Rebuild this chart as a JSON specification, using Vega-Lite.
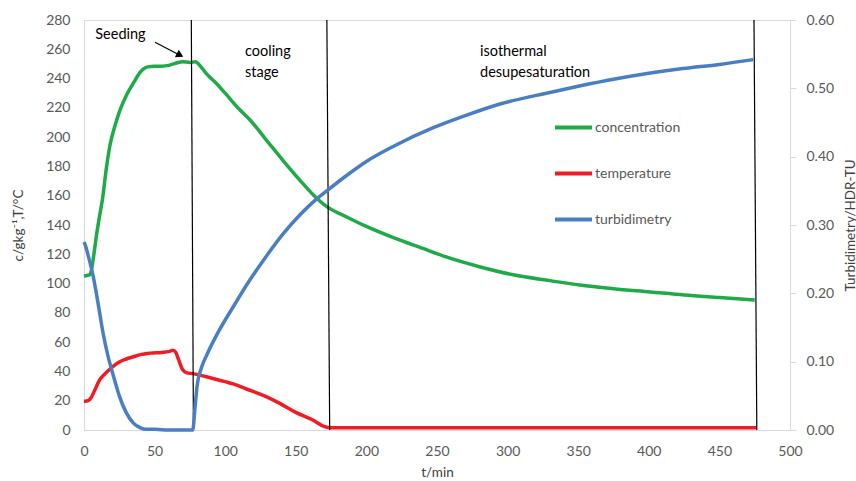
{
  "$schema": "https://vega.github.io/schema/vega-lite/v6.json",
  "autosize": {"type": "none"},
  "width": 706,
  "height": 410,
  "padding": {"left": 84, "top": 20, "right": 66, "bottom": 51},
  "background": "white",
  "config": {
    "font": "Lato",
    "view": {"stroke": "#D9D9D9", "strokeWidth": 1},
    "axis": {"labelColor": "#595959", "labelFontSize": 14, "titleColor": "#404040", "titleFontSize": 13.5, "titleFontWeight": "normal", "domainColor": "#D9D9D9", "tickColor": "#D9D9D9", "grid": false, "labelOverlap": false, "labelFlush": false},
    "legend": {"labelColor": "#595959", "labelFontSize": 14, "padding": 0}
  },
  "datasets": {
    "left": [
      {"t": 0, "v": 105, "s": "concentration"},
      {"t": 2, "v": 105.5, "s": "concentration"},
      {"t": 4, "v": 106, "s": "concentration"},
      {"t": 5, "v": 108, "s": "concentration"},
      {"t": 7, "v": 120, "s": "concentration"},
      {"t": 9, "v": 134, "s": "concentration"},
      {"t": 11, "v": 146, "s": "concentration"},
      {"t": 13, "v": 157, "s": "concentration"},
      {"t": 16, "v": 180, "s": "concentration"},
      {"t": 18.5, "v": 195, "s": "concentration"},
      {"t": 22, "v": 208, "s": "concentration"},
      {"t": 25.5, "v": 218.5, "s": "concentration"},
      {"t": 30, "v": 228.5, "s": "concentration"},
      {"t": 35, "v": 237, "s": "concentration"},
      {"t": 40, "v": 244.5, "s": "concentration"},
      {"t": 42, "v": 246.5, "s": "concentration"},
      {"t": 45, "v": 248, "s": "concentration"},
      {"t": 50, "v": 248.5, "s": "concentration"},
      {"t": 55, "v": 248.5, "s": "concentration"},
      {"t": 60, "v": 249, "s": "concentration"},
      {"t": 65, "v": 250.5, "s": "concentration"},
      {"t": 70, "v": 251.5, "s": "concentration"},
      {"t": 75, "v": 251, "s": "concentration"},
      {"t": 79, "v": 251.5, "s": "concentration"},
      {"t": 82, "v": 249, "s": "concentration"},
      {"t": 87, "v": 243, "s": "concentration"},
      {"t": 94, "v": 236.5, "s": "concentration"},
      {"t": 100, "v": 230, "s": "concentration"},
      {"t": 110, "v": 219, "s": "concentration"},
      {"t": 117.6, "v": 211.7, "s": "concentration"},
      {"t": 130, "v": 197, "s": "concentration"},
      {"t": 141, "v": 184, "s": "concentration"},
      {"t": 153, "v": 170.5, "s": "concentration"},
      {"t": 163, "v": 160, "s": "concentration"},
      {"t": 172, "v": 152.5, "s": "concentration"},
      {"t": 185, "v": 146, "s": "concentration"},
      {"t": 200, "v": 139, "s": "concentration"},
      {"t": 220, "v": 131, "s": "concentration"},
      {"t": 240, "v": 124, "s": "concentration"},
      {"t": 257, "v": 118, "s": "concentration"},
      {"t": 280, "v": 111.5, "s": "concentration"},
      {"t": 304, "v": 106, "s": "concentration"},
      {"t": 330, "v": 102, "s": "concentration"},
      {"t": 351, "v": 99, "s": "concentration"},
      {"t": 375, "v": 96.5, "s": "concentration"},
      {"t": 401, "v": 94.3, "s": "concentration"},
      {"t": 425, "v": 92.2, "s": "concentration"},
      {"t": 450, "v": 90.5, "s": "concentration"},
      {"t": 475, "v": 88.8, "s": "concentration"},
      {"t": 0, "v": 19.5, "s": "temperature"},
      {"t": 3, "v": 20, "s": "temperature"},
      {"t": 5, "v": 22, "s": "temperature"},
      {"t": 8, "v": 28, "s": "temperature"},
      {"t": 11, "v": 34, "s": "temperature"},
      {"t": 15, "v": 38.5, "s": "temperature"},
      {"t": 20, "v": 43, "s": "temperature"},
      {"t": 25, "v": 46.5, "s": "temperature"},
      {"t": 30, "v": 48.5, "s": "temperature"},
      {"t": 35, "v": 50, "s": "temperature"},
      {"t": 40, "v": 51.5, "s": "temperature"},
      {"t": 47, "v": 52.5, "s": "temperature"},
      {"t": 55, "v": 53, "s": "temperature"},
      {"t": 60, "v": 53.5, "s": "temperature"},
      {"t": 63, "v": 54.5, "s": "temperature"},
      {"t": 65, "v": 53, "s": "temperature"},
      {"t": 67, "v": 48, "s": "temperature"},
      {"t": 70, "v": 41, "s": "temperature"},
      {"t": 73, "v": 39, "s": "temperature"},
      {"t": 77, "v": 38.5, "s": "temperature"},
      {"t": 82, "v": 37.5, "s": "temperature"},
      {"t": 90, "v": 35.5, "s": "temperature"},
      {"t": 100, "v": 33, "s": "temperature"},
      {"t": 105.6, "v": 31.5, "s": "temperature"},
      {"t": 115, "v": 28, "s": "temperature"},
      {"t": 129, "v": 22.8, "s": "temperature"},
      {"t": 139, "v": 18, "s": "temperature"},
      {"t": 150, "v": 12, "s": "temperature"},
      {"t": 162, "v": 6.8, "s": "temperature"},
      {"t": 170, "v": 2.5, "s": "temperature"},
      {"t": 174, "v": 1.5, "s": "temperature"},
      {"t": 200, "v": 1.5, "s": "temperature"},
      {"t": 250, "v": 1.5, "s": "temperature"},
      {"t": 300, "v": 1.5, "s": "temperature"},
      {"t": 350, "v": 1.5, "s": "temperature"},
      {"t": 400, "v": 1.5, "s": "temperature"},
      {"t": 450, "v": 1.5, "s": "temperature"},
      {"t": 476, "v": 1.5, "s": "temperature"}
    ],
    "turb": [
      {"t": 0, "v": 0.275, "s": "turbidimetry"},
      {"t": 1, "v": 0.27, "s": "turbidimetry"},
      {"t": 3, "v": 0.255, "s": "turbidimetry"},
      {"t": 6.6, "v": 0.224, "s": "turbidimetry"},
      {"t": 10, "v": 0.185, "s": "turbidimetry"},
      {"t": 13.5, "v": 0.142, "s": "turbidimetry"},
      {"t": 17, "v": 0.108, "s": "turbidimetry"},
      {"t": 21, "v": 0.078, "s": "turbidimetry"},
      {"t": 25, "v": 0.05, "s": "turbidimetry"},
      {"t": 30, "v": 0.025, "s": "turbidimetry"},
      {"t": 35, "v": 0.01, "s": "turbidimetry"},
      {"t": 40, "v": 0.003, "s": "turbidimetry"},
      {"t": 44, "v": 0.001, "s": "turbidimetry"},
      {"t": 50, "v": 0.001, "s": "turbidimetry"},
      {"t": 60, "v": 0, "s": "turbidimetry"},
      {"t": 70, "v": 0, "s": "turbidimetry"},
      {"t": 77, "v": 0, "s": "turbidimetry"},
      {"t": 78.5, "v": 0.03, "s": "turbidimetry"},
      {"t": 80, "v": 0.063, "s": "turbidimetry"},
      {"t": 83, "v": 0.09, "s": "turbidimetry"},
      {"t": 87, "v": 0.11, "s": "turbidimetry"},
      {"t": 95, "v": 0.143, "s": "turbidimetry"},
      {"t": 105.6, "v": 0.18, "s": "turbidimetry"},
      {"t": 117, "v": 0.218, "s": "turbidimetry"},
      {"t": 129, "v": 0.254, "s": "turbidimetry"},
      {"t": 141, "v": 0.287, "s": "turbidimetry"},
      {"t": 153, "v": 0.315, "s": "turbidimetry"},
      {"t": 163.6, "v": 0.336, "s": "turbidimetry"},
      {"t": 172, "v": 0.35, "s": "turbidimetry"},
      {"t": 185, "v": 0.371, "s": "turbidimetry"},
      {"t": 200, "v": 0.393, "s": "turbidimetry"},
      {"t": 220, "v": 0.416, "s": "turbidimetry"},
      {"t": 247, "v": 0.442, "s": "turbidimetry"},
      {"t": 270, "v": 0.46, "s": "turbidimetry"},
      {"t": 294.6, "v": 0.477, "s": "turbidimetry"},
      {"t": 330, "v": 0.494, "s": "turbidimetry"},
      {"t": 350, "v": 0.503, "s": "turbidimetry"},
      {"t": 377, "v": 0.514, "s": "turbidimetry"},
      {"t": 400, "v": 0.522, "s": "turbidimetry"},
      {"t": 424, "v": 0.529, "s": "turbidimetry"},
      {"t": 450, "v": 0.535, "s": "turbidimetry"},
      {"t": 474, "v": 0.542, "s": "turbidimetry"}
    ],
    "rules": [
      {"x": 76, "x2": 77.5},
      {"x": 172, "x2": 174},
      {"x": 474.5, "x2": 476.5}
    ],
    "labels": [
      {"t": 8, "v": 270, "text": "Seeding"},
      {"t": 114, "v": 258, "text": "cooling"},
      {"t": 114, "v": 243.5, "text": "stage"},
      {"t": 280.5, "v": 258, "text": "isothermal"},
      {"t": 280.5, "v": 243.5, "text": "desupesaturation"}
    ],
    "arrow": [
      {"t": 50.3, "v": 264.8},
      {"t": 66.6, "v": 256.6}
    ],
    "head": [
      {"t": 68, "v": 256}
    ]
  },
  "layer": [
    {
      "layer": [
        {
          "data": {"name": "left"},
          "mark": {"type": "line", "strokeWidth": 3.5, "interpolate": "monotone"},
          "encoding": {
            "x": {"field": "t", "type": "quantitative", "scale": {"domain": [0, 500]}, "axis": {"values": [0, 50, 100, 150, 200, 250, 300, 350, 400, 450, 500], "labelOverlap": false, "ticks": false, "labelPadding": 14, "title": "t/min", "titleY": 42, "titleBaseline": "middle"}},
            "y": {"field": "v", "type": "quantitative", "scale": {"domain": [0, 280]}, "axis": {"values": [0, 20, 40, 60, 80, 100, 120, 140, 160, 180, 200, 220, 240, 260, 280], "labelOverlap": false, "ticks": false, "domain": false, "labelPadding": 14, "title": "c/gkg⁻¹,T/°C", "titleX": -66, "titleY": 205, "titleAngle": -90, "titleBaseline": "middle", "titleAlign": "center"}},
            "color": {"field": "s", "type": "nominal", "scale": {"domain": ["concentration", "temperature", "turbidimetry"], "range": ["#1FAA48", "#EE1C25", "#4A7EC2"]}, "legend": {"title": null, "orient": "none", "legendX": 469, "legendY": 87, "symbolType": "stroke", "symbolSize": 1369, "symbolStrokeWidth": 4, "rowPadding": 17, "labelOffset": 1}},
            "detail": {"field": "s"}
          }
        },
        {
          "data": {"name": "rules"},
          "mark": {"type": "rule", "color": "black", "strokeWidth": 1.2},
          "encoding": {
            "x": {"field": "x", "type": "quantitative", "axis": {"values": [0, 50, 100, 150, 200, 250, 300, 350, 400, 450, 500], "labelOverlap": false, "ticks": false, "labelPadding": 14, "title": "t/min", "titleY": 42, "titleBaseline": "middle"}},
            "x2": {"field": "x2"},
            "y": {"datum": 280, "type": "quantitative", "axis": {"values": [0, 20, 40, 60, 80, 100, 120, 140, 160, 180, 200, 220, 240, 260, 280], "labelOverlap": false, "ticks": false, "domain": false, "labelPadding": 14, "title": "c/gkg⁻¹,T/°C", "titleX": -66, "titleY": 205, "titleAngle": -90, "titleBaseline": "middle", "titleAlign": "center"}},
            "y2": {"datum": 0}
          }
        },
        {
          "data": {"name": "labels"},
          "mark": {"type": "text", "align": "left", "baseline": "middle", "fontSize": 14.5, "color": "black"},
          "encoding": {
            "x": {"field": "t", "type": "quantitative", "axis": {"values": [0, 50, 100, 150, 200, 250, 300, 350, 400, 450, 500], "labelOverlap": false, "ticks": false, "labelPadding": 14, "title": "t/min", "titleY": 42, "titleBaseline": "middle"}},
            "y": {"field": "v", "type": "quantitative", "axis": {"values": [0, 20, 40, 60, 80, 100, 120, 140, 160, 180, 200, 220, 240, 260, 280], "labelOverlap": false, "ticks": false, "domain": false, "labelPadding": 14, "title": "c/gkg⁻¹,T/°C", "titleX": -66, "titleY": 205, "titleAngle": -90, "titleBaseline": "middle", "titleAlign": "center"}},
            "text": {"field": "text"}
          }
        },
        {
          "data": {"name": "arrow"},
          "mark": {"type": "line", "color": "black", "strokeWidth": 1.2},
          "encoding": {
            "x": {"field": "t", "type": "quantitative", "axis": {"values": [0, 50, 100, 150, 200, 250, 300, 350, 400, 450, 500], "labelOverlap": false, "ticks": false, "labelPadding": 14, "title": "t/min", "titleY": 42, "titleBaseline": "middle"}},
            "y": {"field": "v", "type": "quantitative", "axis": {"values": [0, 20, 40, 60, 80, 100, 120, 140, 160, 180, 200, 220, 240, 260, 280], "labelOverlap": false, "ticks": false, "domain": false, "labelPadding": 14, "title": "c/gkg⁻¹,T/°C", "titleX": -66, "titleY": 205, "titleAngle": -90, "titleBaseline": "middle", "titleAlign": "center"}}
          }
        },
        {
          "data": {"name": "head"},
          "mark": {"type": "point", "shape": "triangle-up", "filled": true, "color": "black", "size": 70, "angle": 118, "opacity": 1},
          "encoding": {
            "x": {"field": "t", "type": "quantitative", "axis": {"values": [0, 50, 100, 150, 200, 250, 300, 350, 400, 450, 500], "labelOverlap": false, "ticks": false, "labelPadding": 14, "title": "t/min", "titleY": 42, "titleBaseline": "middle"}},
            "y": {"field": "v", "type": "quantitative", "axis": {"values": [0, 20, 40, 60, 80, 100, 120, 140, 160, 180, 200, 220, 240, 260, 280], "labelOverlap": false, "ticks": false, "domain": false, "labelPadding": 14, "title": "c/gkg⁻¹,T/°C", "titleX": -66, "titleY": 205, "titleAngle": -90, "titleBaseline": "middle", "titleAlign": "center"}}
          }
        }
      ]
    },
    {
      "data": {"name": "turb"},
      "mark": {"type": "line", "strokeWidth": 3.5, "interpolate": "monotone"},
      "encoding": {
        "x": {"field": "t", "type": "quantitative", "axis": {"values": [0, 50, 100, 150, 200, 250, 300, 350, 400, 450, 500], "labelOverlap": false, "ticks": false, "labelPadding": 14, "title": "t/min", "titleY": 42, "titleBaseline": "middle"}},
        "y": {"field": "v", "type": "quantitative", "scale": {"domain": [0, 0.6]}, "axis": {"orient": "right", "values": [0, 0.1, 0.2, 0.3, 0.4, 0.5, 0.6], "format": ".2f", "tickSize": 6, "labelPadding": 10, "title": "Turbidimetry/HDR-TU", "titleX": 60, "titleY": 205, "titleAngle": 270, "titleBaseline": "middle", "titleAlign": "center"}},
        "color": {"field": "s", "type": "nominal"}
      }
    }
  ],
  "resolve": {"scale": {"y": "independent"}, "axis": {"y": "independent"}}
}
